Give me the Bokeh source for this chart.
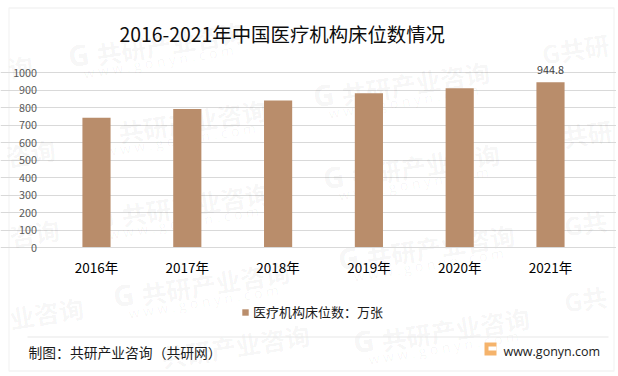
from bokeh.plotting import figure
from bokeh.models import BoxAnnotation, Label, Legend, LegendItem, ColumnDataSource, FixedTicker
from bokeh.core.properties import value
from bokeh.embed import file_html
from bokeh.resources import INLINE

years = ["2016年", "2017年", "2018年", "2019年", "2020年", "2021年"]
beds = [741, 792, 840, 881, 910, 944.8]
y_ticks = [0, 100, 200, 300, 400, 500, 600, 700, 800, 900, 1000]
title_text = "2016-2021年中国医疗机构床位数情况"
series_name = "医疗机构床位数：万张"
source_text = "制图：共研产业咨询（共研网）"
site_text = "www.gonyn.com"

CJK = "Noto Sans CJK SC"
BAR = "#b98d6b"
GRID = "#d9d9d9"

# reference-pixel geometry of the plot area
L, R, T, B = 50.6, 595.4, 72.0, 247.0
W, H = 616, 374

def xd(px):
    return (px - L) / (R - L) * len(years)

def yd(py):
    return (B - py) / (B - T) * 1000

x_pos = [i + 0.5 for i in range(len(years))]

p = figure(x_range=(xd(0), xd(W)), y_range=(yd(H), yd(0)), width=W, height=H,
           output_backend="svg", toolbar_location=None,
           min_border_left=0, min_border_right=0, min_border_top=0, min_border_bottom=0)
p.background_fill_color = "white"
p.border_fill_color = "white"
p.outline_line_color = None

def wm(px, py, text, size, font=CJK, style="bold", alpha=0.045):
    p.add_layout(Label(x=xd(px), y=yd(py), text=text, text_font=font, text_font_style=style,
                       text_font_size=size, text_color="#000000", text_alpha=alpha, level="underlay",
                       text_align="center", text_baseline="middle", angle=9, angle_units="deg"))

# watermarks: full tiles
wm_centres = [(170, 42), (192, 120), (195, 203), (215, 282), (415, 82), (425, 164),
              (440, 245), (455, 328)]
for cx, cy in wm_centres:
    wm(cx, cy, "共研产业咨询", "25px")
    wm(cx - 12, cy + 19, "w w w . g o n y n . c o m", "14px", "Open Sans", "normal", 0.04)
    wm(cx - 92, cy + 12, "G", "29px", "Open Sans", "bold", 0.05)
wm(235, 345, "共研产业咨询", "25px")

# watermarks: fragments at the sides
for px, py, t in [(20, 66, "询"), (30, 152, "咨询"), (34, 232, "咨询"), (46, 312, "业咨询"),
                  (575, 48, "G共研"), (578, 134, "G共研"), (585, 222, "G共"), (585, 298, "G共")]:
    wm(px, py, t, "25px")

bars = p.vbar(x=x_pos, top=beds, width=0.31, color=BAR, line_color=None)

label_src = ColumnDataSource(dict(x=[x_pos[-1]], y=[beds[-1]], t=[f"{beds[-1]}"]))
p.text(x="x", y="y", text="t", source=label_src, text_font=value(CJK), text_font_size="10.8px",
       text_color="#404040", text_align="center", text_baseline="alphabetic", y_offset=-12)

p.xaxis.fixed_location = 0
p.xaxis.bounds = (0, len(years))
p.xaxis.ticker = FixedTicker(ticks=x_pos)
p.xaxis.major_label_overrides = dict(zip(x_pos, years))
p.xaxis.axis_line_color = GRID
p.xaxis.major_tick_line_color = None
p.xaxis.minor_tick_line_color = None
p.xaxis.major_label_text_font = CJK
p.xaxis.major_label_text_font_size = "13.5px"
p.xaxis.major_label_text_color = "#000000"
p.xaxis.major_label_standoff = 3

p.yaxis.fixed_location = 0
p.yaxis.bounds = (0, 1000)
p.yaxis.ticker = FixedTicker(ticks=y_ticks)
p.yaxis.axis_line_color = None
p.yaxis.major_tick_line_color = None
p.yaxis.minor_tick_line_color = None
p.yaxis.major_label_text_font = CJK
p.yaxis.major_label_text_font_size = "10.8px"
p.yaxis.major_label_text_color = "#595959"
p.yaxis.major_label_standoff = 8

p.xgrid.visible = False
p.ygrid.grid_line_color = GRID
p.ygrid.grid_line_width = 1
p.ygrid.ticker = FixedTicker(ticks=y_ticks)
p.ygrid.bounds = (0, len(years))

legend = Legend(items=[LegendItem(label=series_name, renderers=[bars])],
                location=(241, H - 321), orientation="horizontal",
                background_fill_alpha=0, border_line_color=None,
                label_text_font=CJK, label_text_font_size="13px", label_text_color="#1a1a1a",
                glyph_width=8, glyph_height=8, label_standoff=4, padding=0, margin=0)
p.add_layout(legend, "center")

# title, source and site line
p.add_layout(Label(x=xd(119), y=yd(33), text=title_text, text_font=CJK, text_font_size="19.4px",
                   text_color="#0d0d0d", text_baseline="middle"))
p.add_layout(Label(x=xd(28), y=yd(351), text=source_text, text_font=CJK, text_font_size="13.8px",
                   text_color="#1a1a1a", text_baseline="middle"))
p.add_layout(Label(x=xd(503), y=yd(351), text=site_text, text_font="Open Sans", text_font_size="12.5px",
                   text_color="#1a1a1a", text_baseline="middle"))

# frame, separator, logo
def box(l, r, t, b, fill, line=None, lw=1):
    p.add_layout(BoxAnnotation(left=xd(l), right=xd(r), top=yd(t), bottom=yd(b),
                               fill_color=fill, fill_alpha=1 if fill else 0,
                               line_color=line, line_width=lw))

box(8.5, 613.5, 7.5, 370.5, None, GRID, 1.3)
box(27, 608, 336, 337, "#e8e8e8")
box(484, 496, 342, 355, "#f5b36b")
box(488, 496, 346, 350, "white")

open("out.html", "w").write(file_html(p, INLINE))
